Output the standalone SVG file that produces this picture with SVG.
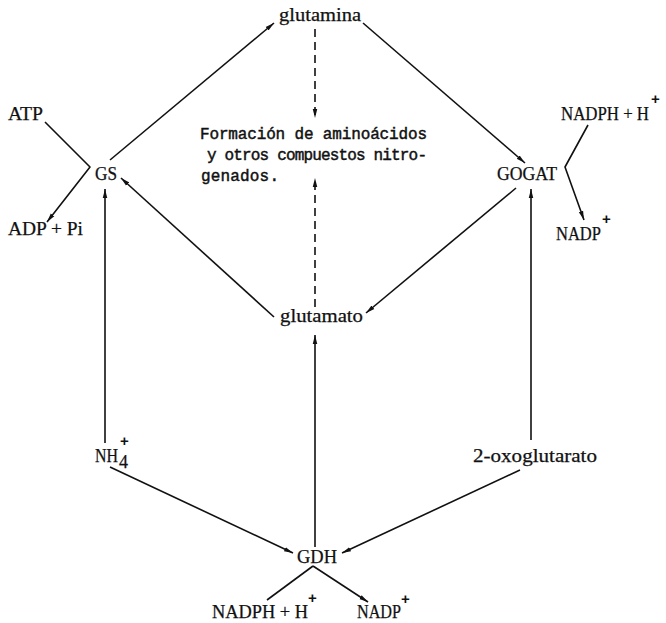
<svg xmlns="http://www.w3.org/2000/svg" width="666" height="623" viewBox="0 0 666 623">
<style>
.lbl{font-family:"Liberation Serif","DejaVu Serif",serif;font-size:18px;fill:#111;stroke:#111;stroke-width:0.25}
.sup{font-family:"Liberation Sans","DejaVu Sans",sans-serif;font-size:15px;font-weight:bold;fill:#111}
.mono{font-family:"Liberation Mono","DejaVu Sans Mono",monospace;font-size:16px;fill:#111;stroke:#111;stroke-width:0.45}
.c{fill:none;stroke:#111;stroke-width:1.6;stroke-linejoin:round}
.a{marker-end:url(#ah)}
.d{stroke-dasharray:8 5}
</style>
<defs>
<marker id="ah" viewBox="0 0 10 6" refX="10" refY="3" markerWidth="9" markerHeight="6" markerUnits="userSpaceOnUse" orient="auto">
<path d="M0,0.5 L10,3 L0,5.5 z" fill="#111"/>
</marker>
</defs>
<rect width="666" height="623" fill="#fff"/>
<g id="connectors">
<line class="c a" x1="110" y1="160" x2="274" y2="23"/>
<line class="c a" x1="363" y1="23" x2="525" y2="163"/>
<line class="c a" x1="516" y1="188" x2="366" y2="313"/>
<line class="c a" x1="274" y1="317" x2="121" y2="178"/>
<line class="c a" x1="105" y1="443" x2="105" y2="189"/>
<line class="c a" x1="531" y1="440" x2="531" y2="189"/>
<line class="c a" x1="110" y1="467" x2="293" y2="553"/>
<line class="c a" x1="520" y1="470" x2="342" y2="553"/>
<line class="c a" x1="315" y1="547" x2="315" y2="335"/>
<line class="c a d" x1="315" y1="29" x2="315" y2="118"/>
<line class="c a d" x1="315" y1="307" x2="315" y2="178"/>
<polyline class="c a" points="45,122 90,167 47,222"/>
<polyline class="c a" points="588,125 565,167 584,220"/>
<line class="c" x1="313" y1="566" x2="267" y2="600"/>
<line class="c a" x1="313" y1="566" x2="368" y2="602"/>
</g>
<g id="glutamina"><text class="lbl" x="279" y="21" textLength="82" lengthAdjust="spacingAndGlyphs">glutamina</text></g>
<g id="GS"><text class="lbl" x="95" y="180" textLength="22" lengthAdjust="spacingAndGlyphs">GS</text></g>
<g id="GOGAT"><text class="lbl" x="497" y="180" textLength="60" lengthAdjust="spacingAndGlyphs">GOGAT</text></g>
<g id="ATP"><text class="lbl" x="8" y="120" textLength="35" lengthAdjust="spacingAndGlyphs">ATP</text></g>
<g id="ADP"><text class="lbl" x="8" y="235" textLength="75" lengthAdjust="spacingAndGlyphs">ADP + Pi</text></g>
<g id="NADPH-top"><text class="lbl" x="561" y="120" textLength="88" lengthAdjust="spacingAndGlyphs">NADPH + H</text><text class="sup" x="651" y="104">+</text></g>
<g id="NADP-top"><text class="lbl" x="556" y="240" textLength="45" lengthAdjust="spacingAndGlyphs">NADP</text><text class="sup" x="602" y="224">+</text></g>
<g id="formacion">
<text class="mono" x="200" y="139" textLength="227">Formación de aminoácidos</text>
<text class="mono" x="207" y="160" textLength="220">y otros compuestos nitro-</text>
<text class="mono" x="201" y="181" textLength="78">genados.</text>
</g>
<g id="glutamato"><text class="lbl" x="280" y="322" textLength="83" lengthAdjust="spacingAndGlyphs">glutamato</text></g>
<g id="NH4"><text class="lbl" x="95" y="462" textLength="23" lengthAdjust="spacingAndGlyphs">NH</text><text class="lbl" x="119" y="468" font-size="14">4</text><text class="sup" x="120" y="446">+</text></g>
<g id="oxoglutarato"><text class="lbl" x="473" y="462" textLength="124" lengthAdjust="spacingAndGlyphs">2-oxoglutarato</text></g>
<g id="GDH"><text class="lbl" x="297" y="563" textLength="40" lengthAdjust="spacingAndGlyphs">GDH</text></g>
<g id="NADPH-bottom"><text class="lbl" x="212" y="618" textLength="96" lengthAdjust="spacingAndGlyphs">NADPH + H</text><text class="sup" x="308" y="603">+</text></g>
<g id="NADP-bottom"><text class="lbl" x="357" y="618" textLength="44" lengthAdjust="spacingAndGlyphs">NADP</text><text class="sup" x="401" y="604">+</text></g>
</svg>
